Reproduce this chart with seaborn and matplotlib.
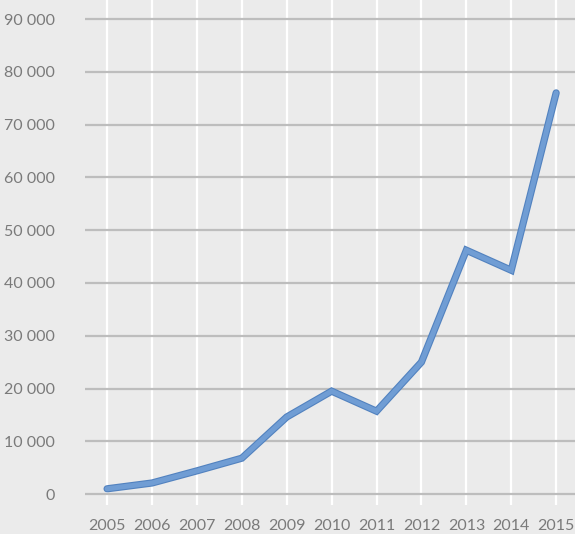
import numpy as np
import pandas as pd
import seaborn as sns
import matplotlib.pyplot as plt
import matplotlib.patheffects as pe
from matplotlib.ticker import FuncFormatter

years = [2005, 2006, 2007, 2008, 2009, 2010, 2011, 2012, 2013, 2014, 2015]
values = [1000, 2100, 4400, 6800, 14600, 19500, 15700, 25000, 46200, 42400, 76000]
yticks = [0, 10000, 20000, 30000, 40000, 50000, 60000, 70000, 80000, 90000]

df = pd.DataFrame({'year': years, 'value': values})

sns.set_style('white')
plt.rcParams['font.family'] = ['Lato', 'DejaVu Sans']

bg = '#ebebeb'
fig = plt.figure(figsize=(5.75, 5.34), dpi=100, facecolor=bg)
ax = fig.add_axes([0.148, 0.054, 0.852, 0.946])
ax.set_facecolor(bg)

sns.lineplot(data=df, x='year', y='value', ax=ax, color='#709dd4', linewidth=3.6,
             solid_joinstyle='miter',
             path_effects=[pe.Stroke(linewidth=5.2, foreground='#5282bf'), pe.Normal()])

ax.set_xlim(2004.51, 2015.42)
ax.set_ylim(-2100, 93600)
ax.set_xticks(years)
ax.set_yticks(yticks)
ax.yaxis.set_major_formatter(FuncFormatter(lambda v, p: f'{int(v):,}'.replace(',', ' ')))

for y in yticks:
    ax.axhline(y, color='#bdbdbd', linewidth=1.6, zorder=1)
for x in years:
    ax.axvline(x, color='white', linewidth=1.6, zorder=0.5)

for s in ax.spines.values():
    s.set_visible(False)
ax.tick_params(axis='both', length=0, labelsize=11.5, labelcolor='#7a7a7a')
ax.tick_params(axis='y', pad=22)
ax.tick_params(axis='x', pad=10)
ax.set_xlabel('')
ax.set_ylabel('')

fig.savefig('out.png', dpi=100, facecolor=bg)
